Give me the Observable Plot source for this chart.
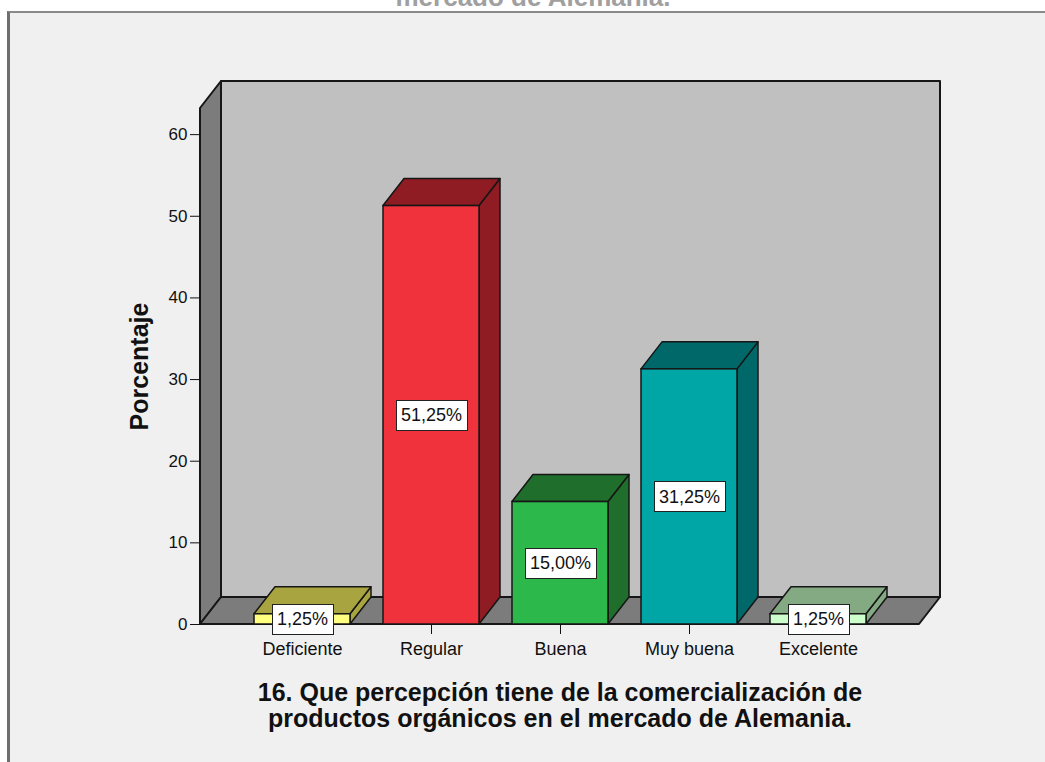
<!DOCTYPE html>
<html>
<head>
<meta charset="utf-8">
<script src="https://cdn.jsdelivr.net/npm/d3@7"></script>
<script src="https://cdn.jsdelivr.net/npm/@observablehq/plot@0.6"></script>
<style>
html,body{margin:0;padding:0;background:#fff;width:1045px;height:762px;overflow:hidden;font-family:"Liberation Sans",Arial,sans-serif;}
#wrap{position:relative;width:1045px;height:762px;overflow:hidden;}
#panel{position:absolute;left:7px;top:11px;width:1100px;height:800px;background:#f0f0f0;border-top:2px solid #8a8a8a;border-left:3px solid #6e6e6e;}
#toptitle{position:absolute;left:0;width:1066px;top:-16px;text-align:center;font-weight:bold;font-size:26px;line-height:26px;color:#a0a0a0;white-space:nowrap;}
#chart{position:absolute;left:0;top:0;}
#chart svg{background:transparent !important;overflow:visible;}
</style>
</head>
<body>
<div id="wrap">
  <div id="panel"></div>
  <div id="toptitle">mercado de Alemania.</div>
  <div id="chart"></div>
</div>
<script>
// ---- data ----
const categories = ["Deficiente", "Regular", "Buena", "Muy buena", "Excelente"];
const values = [1.25, 51.25, 15.00, 31.25, 1.25];
const valueLabels = ["1,25%", "51,25%", "15,00%", "31,25%", "1,25%"];
const frontColors = ["#ffff80", "#f0323c", "#2db84b", "#00a6a6", "#ccffcc"];
const sideColors = ["#a8a440", "#8e1c22", "#1f6e2c", "#006868", "#84aa84"];
const yTicks = [0, 10, 20, 30, 40, 50, 60];
const yMax = 63.2;
const yTitle = "Porcentaje";
const xTitle = "16. Que percepción tiene de la comercialización de\nproductos orgánicos en el mercado de Alemania.";

const data = categories.map((c, i) => ({cat: c, value: values[i], label: valueLabels[i], front: frontColors[i], side: sideColors[i]}));

const DX = 21, DY = 27;
const FONT = "'Liberation Sans', Arial, sans-serif";
const bwOf = (x) => (typeof x.bandwidth === "function" ? x.bandwidth() : x.bandwidth);

function walls(index, scales, vals, dim) {
  const y0 = scales.y(0), yT = scales.y(yMax);
  const xL = dim.marginLeft, xR = dim.width - dim.marginRight;
  const g = d3.create("svg:g").attr("stroke", "#161616").attr("stroke-width", 2).attr("stroke-linejoin", "round");
  g.append("path").attr("fill", "#c0c0c0").attr("d", `M${xL + DX},${yT - DY}H${xR + DX}V${y0 - DY}H${xL + DX}Z`);
  g.append("path").attr("fill", "#7c7c7c").attr("d", `M${xL},${y0}V${yT}L${xL + DX},${yT - DY}V${y0 - DY}Z`);
  g.append("path").attr("fill", "#7c7c7c").attr("d", `M${xL},${y0}H${xR}L${xR + DX},${y0 - DY}H${xL + DX}Z`);
  return g.node();
}

function faces(index, scales) {
  const bw = bwOf(scales.x);
  const g = d3.create("svg:g").attr("stroke", "#161616").attr("stroke-width", 1.5).attr("stroke-linejoin", "round");
  data.forEach((d) => {
    const x0 = scales.x(d.cat), x1 = x0 + bw, yv = scales.y(d.value), y0 = scales.y(0);
    g.append("path").attr("fill", d.side).attr("d", `M${x1},${y0}V${yv}L${x1 + DX},${yv - DY}V${y0 - DY}Z`);
    g.append("path").attr("fill", d.side).attr("d", `M${x0},${yv}H${x1}L${x1 + DX},${yv - DY}H${x0 + DX}Z`);
  });
  return g.node();
}

const ctx = document.createElement("canvas").getContext("2d");
ctx.font = "18px " + FONT;
function boxes(index, scales) {
  const bw = bwOf(scales.x);
  const g = d3.create("svg:g").attr("fill", "#fff").attr("stroke", "#222").attr("stroke-width", 1);
  data.forEach((d) => {
    const cx = scales.x(d.cat) + bw / 2, cy = scales.y(d.value / 2);
    const w = Math.round(ctx.measureText(d.label).width + 10), h = 30;
    g.append("rect").attr("x", Math.round(cx - w / 2) + 0.5).attr("y", Math.round(cy - h / 2) + 0.5).attr("width", w).attr("height", h);
  });
  return g.node();
}

const chart = Plot.plot({
  width: 1045,
  height: 762,
  marginLeft: 200,
  marginRight: 126,
  marginTop: 108,
  marginBottom: 138,
  style: {background: "transparent", color: "#111", fontFamily: FONT, overflow: "visible"},
  x: {type: "band", domain: categories, paddingInner: 0.259, paddingOuter: 0.4},
  y: {domain: [0, yMax], nice: false},
  color: {type: "identity"},
  marks: [
    walls,
    faces,
    Plot.barY(data, {x: "cat", y: "value", fill: "front", stroke: "#161616", strokeWidth: 1.5, insetLeft: 0, insetRight: 0}),
    Plot.axisY({ticks: yTicks, tickSize: 10, tickPadding: 3, fontSize: 17, label: null}),
    Plot.axisX({tickSize: 10, tickPadding: 8, fontSize: 18, label: null}),
    boxes,
    Plot.text(data, {x: "cat", y: (d) => d.value / 2, text: "label", fontSize: 18, fill: "#111"}),
    Plot.text([yTitle], {frameAnchor: "left", textAnchor: "middle", rotate: -90, dx: -61, fontSize: 25, fontWeight: "bold", fill: "#111"}),
    Plot.text([xTitle], {frameAnchor: "bottom", textAnchor: "middle", lineAnchor: "top", dy: 58, fontSize: 25, fontWeight: "bold", lineHeight: 1.04, fill: "#111"})
  ]
});
document.getElementById("chart").appendChild(chart);
</script>
</body>
</html>
